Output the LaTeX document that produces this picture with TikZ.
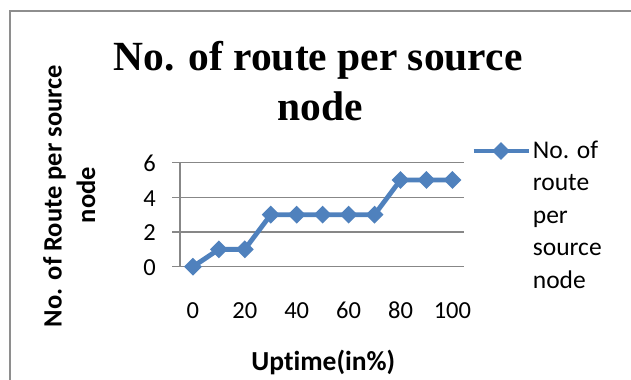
\documentclass[tikz,border=0pt]{standalone}
\usepackage{fontspec}
\setmainfont{Liberation Serif}
\newfontfamily\calib[Ligatures={NoCommon,NoRare,NoContextual}]{Carlito}
\usetikzlibrary{shapes.geometric}
\definecolor{series}{HTML}{4F81BD}
\definecolor{gridc}{HTML}{878787}
\definecolor{framec}{HTML}{8E8E8E}
\tikzset{
  gridline/.style={draw=gridc, line width=1.5bp},
  marker/.style={shape=diamond, fill=series, draw=none, inner sep=0pt, minimum width=18bp, minimum height=18bp},
  seriesline/.style={draw=series, line width=4.8bp, line join=round},
  ticklabel/.style={font=\calib\fontsize{24.5bp}{28bp}\selectfont, inner sep=0pt},
  axtitle/.style={font=\calib\bfseries\fontsize{26.5bp}{32bp}\selectfont, inner sep=0pt},
  legtext/.style={font=\calib\fontsize{25.5bp}{31bp}\selectfont, inner sep=0pt, anchor=base west},
  titletext/.style={font=\bfseries\fontsize{41.5bp}{49bp}\selectfont, inner sep=0pt, anchor=base}
}
\begin{document}
\begin{tikzpicture}[x=1bp,y=-1bp]
\useasboundingbox (0,0) rectangle (631,379);
\fill[white] (0,0) rectangle (631,379);
% frame
\coordinate (fbl) at (10,382);
\coordinate (ftl) at (10,11);
\coordinate (ftr) at (634,11);
\draw[framec, line width=2bp] (fbl) -- (ftl) -- (ftr);
% title
\node[titletext] (t1) at (318,70.7) {No. of route per source};
\node[titletext] (t2) at (320,120) {node};
% gridlines and y labels
\foreach \v/\n in {0/a,2/b,4/c,6/d} {
  \coordinate (gl\n) at (172,266.7-\v*17.35);
  \coordinate (gr\n) at (464,266.7-\v*17.35);
  \draw[gridline] (gl\n) -- (gr\n);
  \node[ticklabel, anchor=base east] (yl\n) at (156,266.7-\v*17.35+8.7) {\v};
}
\coordinate (axt) at (180,162.7);
\coordinate (axb) at (180,266.7);
\draw[gridline] (axt) -- (axb);
% x labels
\foreach \i/\lab in {0/0,2/20,4/40,6/60,8/80,10/100} {
  \node[ticklabel, anchor=base] (xl\i) at (192.9+\i*25.95,318.3) {\lab};
}
% data
\foreach \i/\val in {0/0,1/1,2/1,3/3,4/3,5/3,6/3,7/3,8/5,9/5,10/5} {
  \coordinate (p\i) at (192.9+\i*25.95,266.7-\val*17.35);
}
\draw[seriesline] (p0) -- (p1) -- (p2) -- (p3) -- (p4) -- (p5) -- (p6) -- (p7) -- (p8) -- (p9) -- (p10);
\foreach \i in {0,...,10} { \node[marker] (m\i) at (p\i) {}; }
% axis titles
\node[axtitle, anchor=base, font=\calib\bfseries\fontsize{27.5bp}{32bp}\selectfont] (xt) at (323.3,370) {Uptime(in\%)};
\node[axtitle, anchor=base, rotate=90] (yt1) at (61.5,196) {No. of Route per source};
\node[axtitle, anchor=base, rotate=90] (yt2) at (95,195) {node};
% legend
\coordinate (la) at (473.5,151);
\coordinate (lb) at (529,151);
\draw[seriesline] (la) -- (lb);
\node[marker] (lm) at (501,151) {};
\node[legtext] (lt1) at (532.7,158.3) {No. of};
\node[legtext] (lt2) at (532.7,190.8) {route};
\node[legtext] (lt3) at (532.7,223.3) {per};
\node[legtext] (lt4) at (532.7,255.8) {source};
\node[legtext] (lt5) at (532.7,288.3) {node};
\end{tikzpicture}
\end{document}
